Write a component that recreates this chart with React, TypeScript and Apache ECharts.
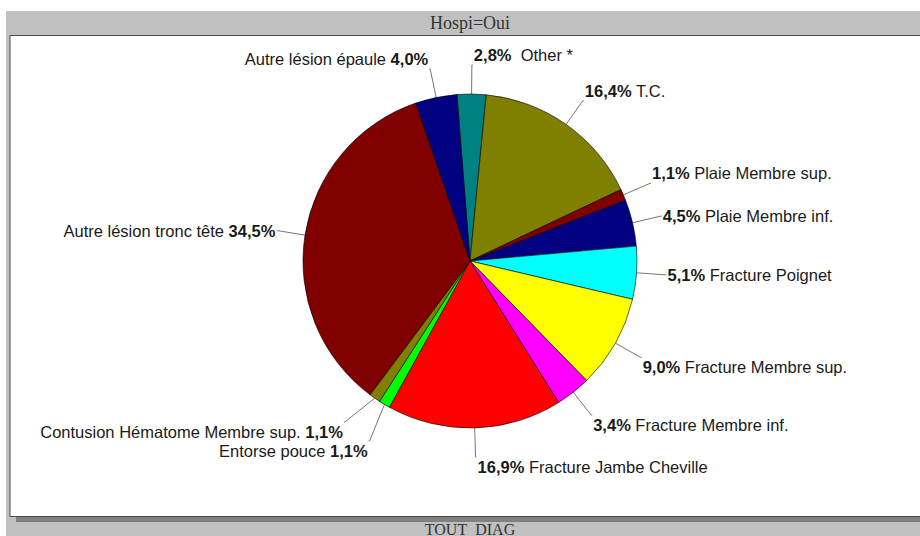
import React, { useEffect, useRef } from "react";
import * as echarts from "echarts";

const categories = [
  "Other *",
  "T.C.",
  "Plaie Membre sup.",
  "Plaie Membre inf.",
  "Fracture Poignet",
  "Fracture Membre sup.",
  "Fracture Membre inf.",
  "Fracture Jambe Cheville",
  "Entorse pouce",
  "Contusion Hématome Membre sup.",
  "Autre lésion tronc tête",
  "Autre lésion épaule",
];
const values = [2.8, 16.4, 1.1, 4.5, 5.1, 9.0, 3.4, 16.9, 1.1, 1.1, 34.5, 4.0];
const colors = [
  "#008080",
  "#808000",
  "#800000",
  "#000080",
  "#00FFFF",
  "#FFFF00",
  "#FF00FF",
  "#FF0000",
  "#00FF00",
  "#808000",
  "#800000",
  "#000080",
];
const panelTitle = "Hospi=Oui";
const footerTitle = "TOUT_DIAG";

const START_ANGLE = 94.5;
const FONT = "'Liberation Sans', Arial, sans-serif";
const SERIF = "'Liberation Serif', 'Times New Roman', serif";

function fmtPct(v: number) {
  return v.toFixed(1).replace(".", ",") + "%";
}

export default function App() {
  const ref = useRef<HTMLDivElement>(null);
  useEffect(() => {
    if (!ref.current) return;
    const chart = echarts.init(ref.current, undefined, { renderer: "svg" });
    const total = values.reduce((a, b) => a + b, 0);
    let cum = 0;
    const midAngles = values.map((v) => {
      const mid = (90 - START_ANGLE) + ((cum + v / 2) / total) * 360;
      cum += v;
      return (mid * Math.PI) / 180;
    });
    const leftSide = midAngles.map((a) => Math.sin(a) < 0);
    const data = categories.map((name, i) => ({
      name,
      value: values[i],
      itemStyle: { color: colors[i] },
    }));
    chart.setOption({
      animation: false,
      graphic: [
        { type: "rect", z: -10, shape: { x: 6, y: 11, width: 914, height: 525 }, style: { fill: "#C0C0C0" }, silent: true },
        { type: "rect", z: -9, shape: { x: 16, y: 517, width: 904, height: 5 }, style: { fill: "#808080" }, silent: true },
        { type: "rect", z: -8, shape: { x: 10, y: 35.5, width: 930, height: 481 }, style: { fill: "#FFFFFF", stroke: "#4a4a4a", lineWidth: 1 }, silent: true },
        { type: "text", z: -7, x: 470, y: 23, style: { text: panelTitle, font: `18px ${SERIF}`, fill: "#333", align: "center", verticalAlign: "middle" } },
        { type: "text", z: -7, x: 470, y: 529, style: { text: footerTitle, font: `16px ${SERIF}`, fill: "#333", align: "center", verticalAlign: "middle" } },
      ],
      series: [
        {
          type: "pie",
          center: [470, 261],
          radius: 167,
          startAngle: START_ANGLE,
          clockwise: true,
          data,
          itemStyle: { borderColor: "#000", borderWidth: 0.6 },
          emphasis: { disabled: true },
          label: {
            show: true,
            position: "outside",
            fontFamily: FONT,
            fontSize: 16.5,
            color: "#1a1a1a",
            distanceToLabelLine: 1,
            formatter: (p: any) => {
              const pct = fmtPct(p.value);
              if (p.dataIndex === 0) return `{b|${pct}}  ${p.name}`;
              return leftSide[p.dataIndex] ? `${p.name} {b|${pct}}` : `{b|${pct}} ${p.name}`;
            },
            rich: {
              b: { fontWeight: "bold", fontFamily: FONT, fontSize: 16.5, color: "#1a1a1a" },
            },
          },
          labelLine: {
            show: true,
            length: 29,
            length2: 1,
            lineStyle: { color: "#777", width: 1 },
          },
          labelLayout: (params: any) => {
            const c = Math.cos(midAngles[params.dataIndex]);
            const dy = Math.abs(c) > 0.3 ? -10 * Math.sign(c) : 0;
            return { dy };
          },
        },
      ],
    });
    return () => chart.dispose();
  }, []);
  return (
    <div
      ref={ref}
      style={{ position: "fixed", left: 0, top: 0, width: 920, height: 536, background: "#fff" }}
    />
  );
}
